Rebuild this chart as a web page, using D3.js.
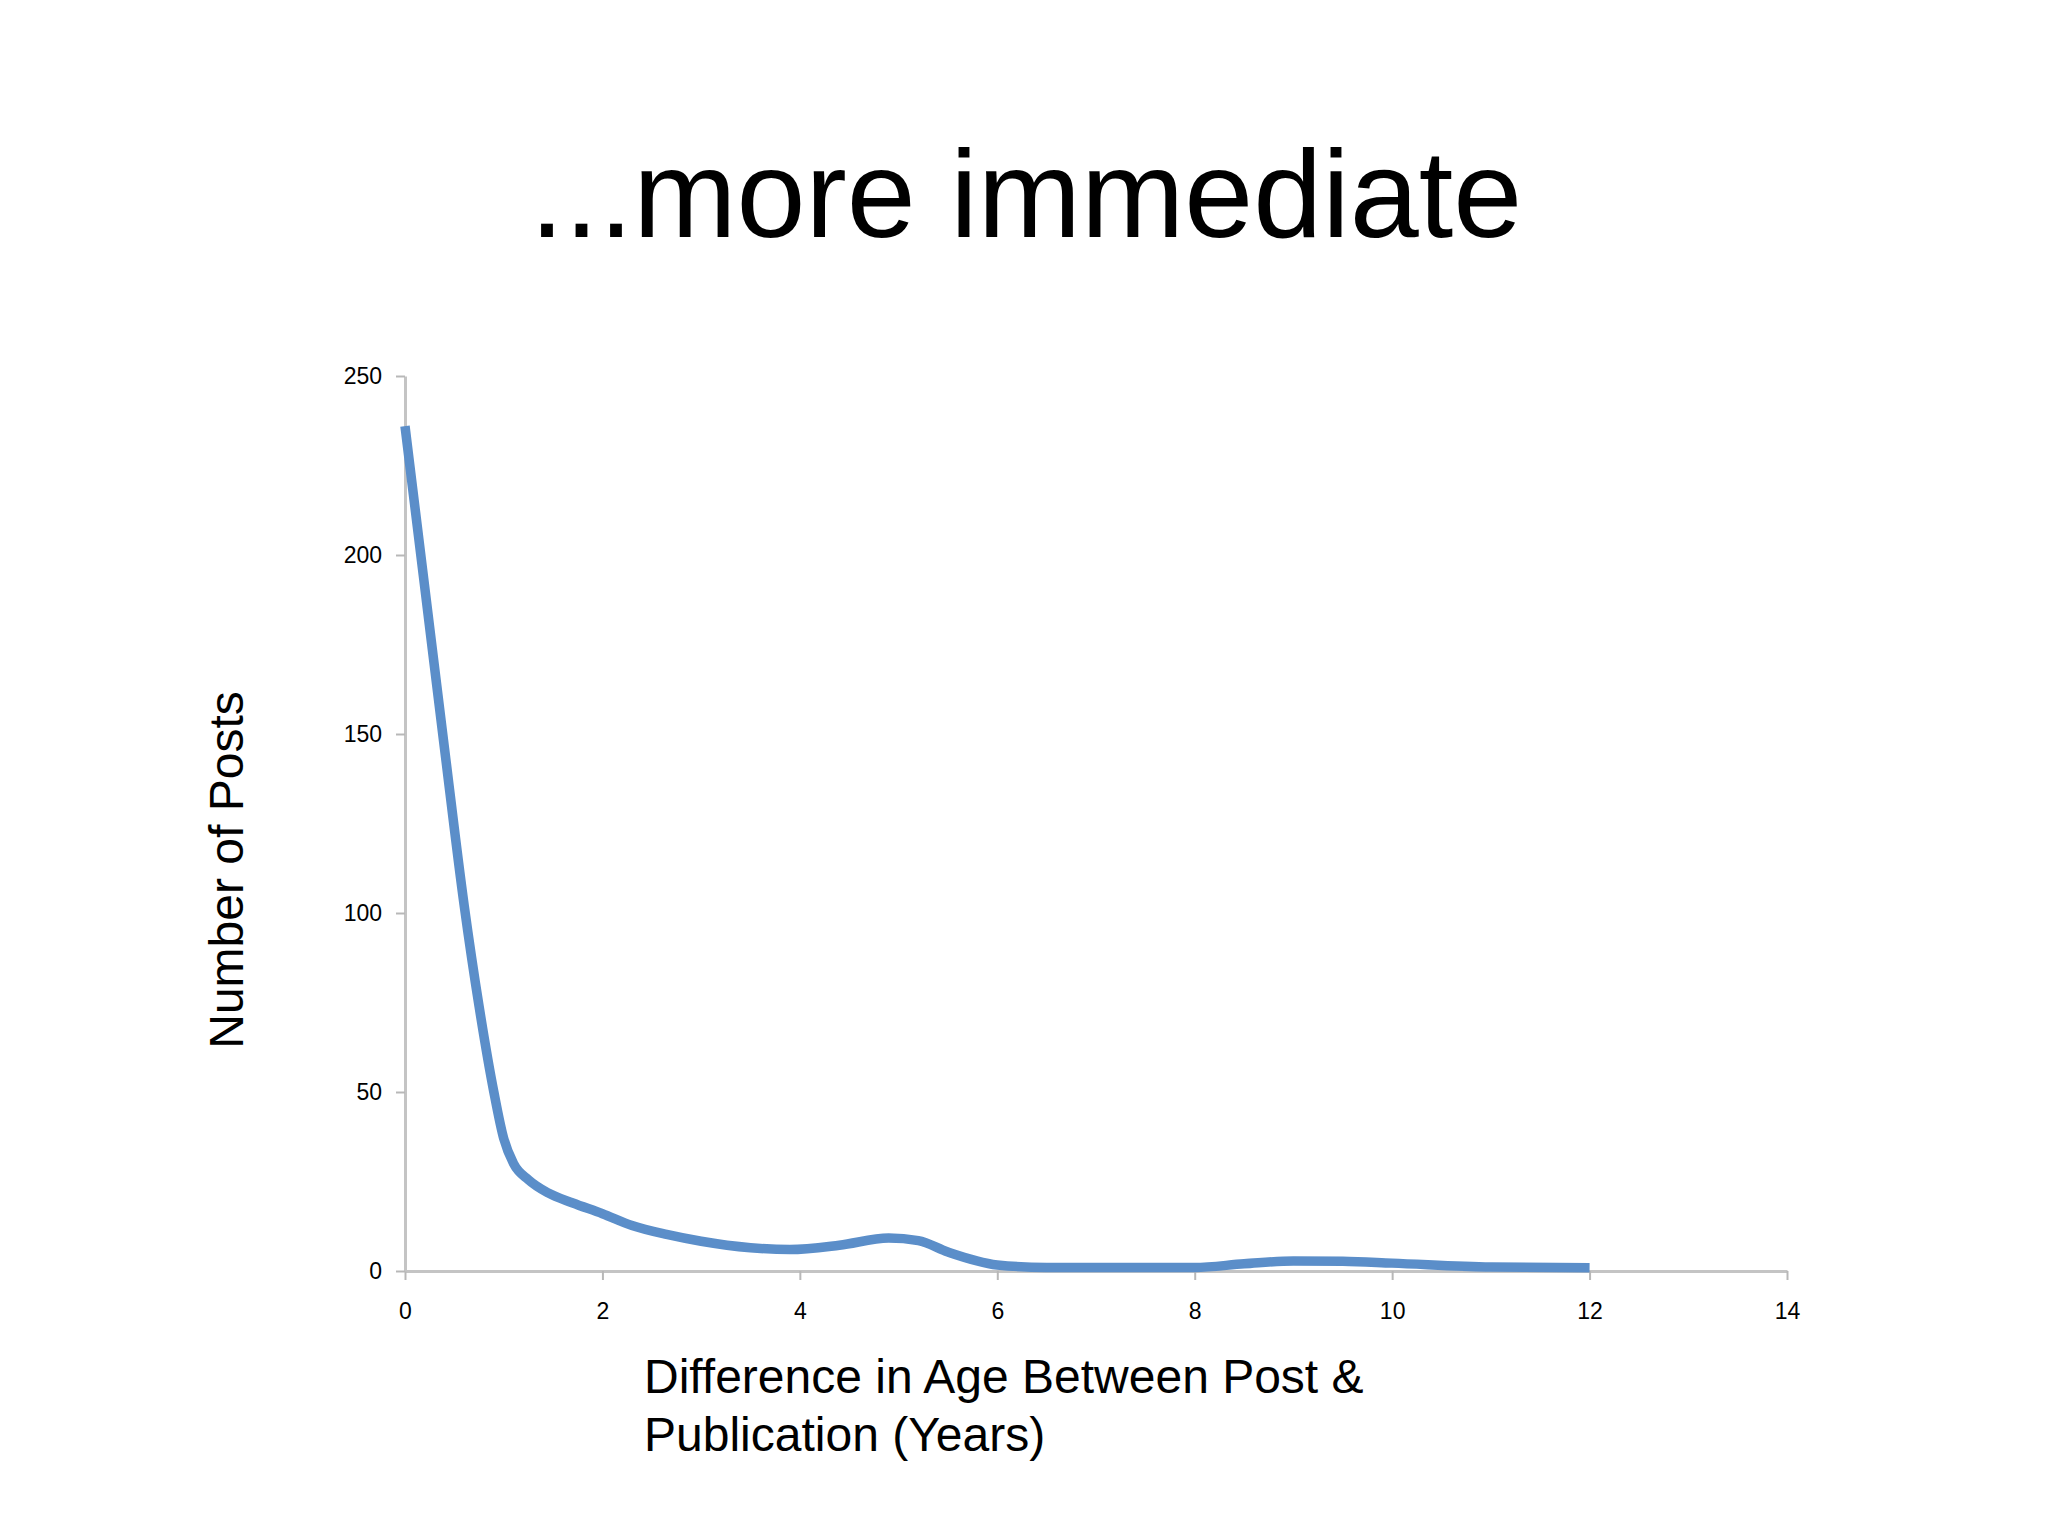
<!DOCTYPE html>
<html>
<head>
<meta charset="utf-8">
<script src="https://cdn.jsdelivr.net/npm/d3@7"></script>
<style>
  body { margin: 0; background: #fff; }
  svg { display: block; }
</style>
</head>
<body>
<script>
// values
const years = [0, 0.2, 0.4, 0.6, 0.75, 0.9, 1.0, 1.1, 1.25, 1.45, 1.7, 2.0, 2.3, 2.65, 3.0, 3.5, 3.9, 4.4, 4.9, 5.2, 5.5, 6.0, 6.5, 7.0, 8.0, 8.5, 9.0, 9.5, 10.0, 11.0, 12.0];
const posts = [236, 191, 146, 102, 74, 50, 37, 30, 25.5, 21.8, 19, 16, 12.7, 10.2, 8.3, 6.5, 6, 7.2, 9.2, 8.5, 5.3, 1.7, 1, 1, 1, 2, 2.8, 2.7, 2.2, 1.1, 0.9];
const xTicks = [0, 2, 4, 6, 8, 10, 12, 14];
const yTicks = [0, 50, 100, 150, 200, 250];

const title = "...more immediate";
const yTitle = "Number of Posts";
const xTitle = ["Difference in Age Between Post &", "Publication (Years)"];

var size = ({ width: 2048, height: 1536 });
var plot = ({ left: 405, right: 1787, top: 376, bottom: 1271 });

var svg = d3.select("body").append("svg")
            .attr("width", size.width)
            .attr("height", size.height)
            .style("font-family", "'Liberation Sans', Arial, sans-serif");

var x_scale = d3.scaleLinear().domain([0, 14]).range([plot.left, plot.right]);
var y_scale = d3.scaleLinear().domain([0, 250]).range([plot.bottom, plot.top]);

// title
svg.append("text")
   .attr("x", 1026)
   .attr("y", 237)
   .attr("text-anchor", "middle")
   .attr("font-size", 124)
   .attr("fill", "#000")
   .text(title);

// axes
var xAxis = svg.append("g")
               .attr("transform", `translate(0,${plot.bottom})`)
               .call(d3.axisBottom(x_scale).tickValues(xTicks).tickSize(9).tickPadding(23).tickSizeOuter(0));
var yAxis = svg.append("g")
               .attr("transform", `translate(${plot.left},0)`)
               .call(d3.axisLeft(y_scale).tickValues(yTicks).tickSize(9).tickPadding(14).tickSizeOuter(0));

[xAxis, yAxis].forEach(g => {
  g.select(".domain").attr("stroke", "#c4c4c4").attr("stroke-width", 3);
  g.selectAll(".tick line").attr("stroke", "#b8b8b8").attr("stroke-width", 2);
  g.selectAll(".tick text")
   .attr("font-family", "'Liberation Sans', Arial, sans-serif")
   .attr("font-size", 23)
   .attr("fill", "#000");
});

// line
var line = d3.line()
             .x((d, i) => x_scale(years[i]))
             .y(d => y_scale(d))
             .curve(d3.curveMonotoneX);

svg.append("path")
   .datum(posts)
   .attr("d", line)
   .attr("fill", "none")
   .attr("stroke", "#5b8ec9")
   .attr("stroke-width", 9.5)
   .attr("stroke-linejoin", "round");

// axis titles
svg.append("text")
   .attr("transform", "translate(243,870) rotate(-90)")
   .attr("text-anchor", "middle")
   .attr("font-size", 48)
   .attr("fill", "#000")
   .text(yTitle);

svg.append("text")
   .attr("font-size", 48)
   .attr("fill", "#000")
   .selectAll("tspan")
   .data(xTitle)
   .enter()
   .append("tspan")
   .attr("x", 644)
   .attr("y", (d, i) => 1393 + i * 58)
   .text(d => d);
</script>
</body>
</html>
